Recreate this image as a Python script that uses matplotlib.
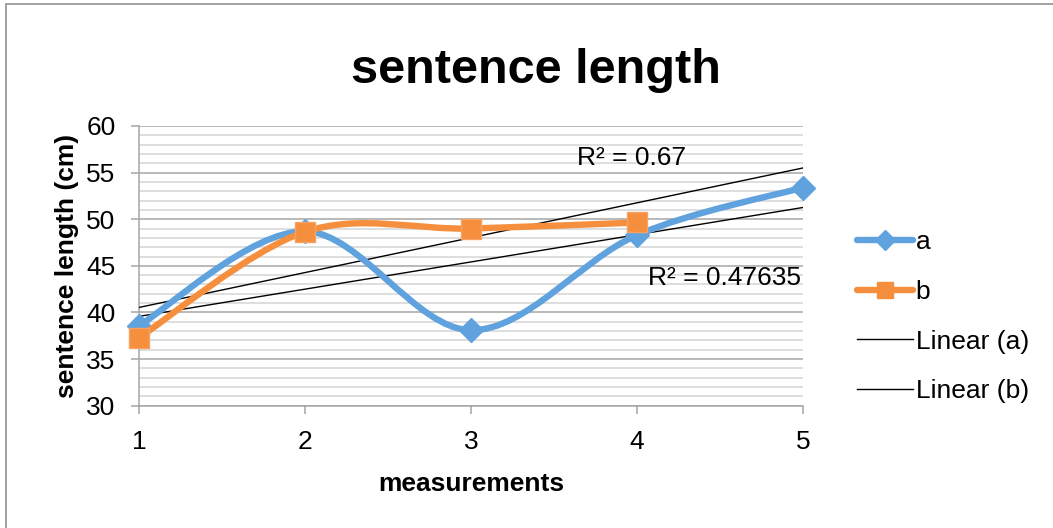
import matplotlib
matplotlib.use("Agg")
import matplotlib.pyplot as plt
import numpy as np
from matplotlib.path import Path
from matplotlib.patches import PathPatch, Rectangle
from matplotlib.lines import Line2D

plt.rcParams["font.family"] = ["Liberation Sans", "DejaVu Sans"]

# Dados.
x_a = [1, 2, 3, 4, 5]
a_vals = [38.6, 48.7, 38.1, 48.3, 53.4]
x_b = [1, 2, 3, 4]
b_vals = [37.3, 48.65, 49.0, 49.65]
r2_a = "R² = 0.47635"
r2_b = "R² = 0.67"

col_a = "#5fa2dd"
col_b = "#f58f3d"


def smooth_path(xs, ys):
    # Curva suavizada tipo Excel (Bezier com pontos de controle de Catmull-Rom).
    pts = np.column_stack([xs, ys]).astype(float)
    n = len(pts)
    verts = [pts[0]]
    codes = [Path.MOVETO]
    for i in range(n - 1):
        p0 = pts[max(i - 1, 0)]
        p1 = pts[i]
        p2 = pts[i + 1]
        p3 = pts[min(i + 2, n - 1)]
        c1 = p1 + (p2 - p0) / 6.0
        c2 = p2 - (p3 - p1) / 6.0
        verts += [c1, c2, p2]
        codes += [Path.CURVE4] * 3
    return Path(verts, codes)


fig = plt.figure(figsize=(10.53, 5.28), dpi=100)
ax = fig.add_axes([0.132, 0.2316, 0.6306, 0.5298])

# Linhas de grade e eixos.
ax.set_xlim(1, 5)
ax.set_ylim(30, 60)
ax.set_yticks(np.arange(30, 61, 5))
ax.set_yticks(np.arange(30, 61, 1), minor=True)
ax.set_xticks([1, 2, 3, 4, 5])
ax.grid(axis="y", which="major", color="#a6a6a6", lw=1.1, zorder=0)
ax.grid(axis="y", which="minor", color="#d4d4d4", lw=1.1, zorder=0)
ax.tick_params(axis="y", which="minor", length=0)
ax.tick_params(axis="both", which="major", length=5.8, width=1.1, color="#a6a6a6",
               labelsize=19)
ax.tick_params(axis="y", pad=11)
ax.tick_params(axis="x", pad=11.5)
for side in ["top", "right"]:
    ax.spines[side].set_visible(False)
for side in ["left", "bottom"]:
    ax.spines[side].set_color("#a6a6a6")
    ax.spines[side].set_linewidth(1.1)

# Linhas de tendência.
xt = np.array([1, 5])
pa = np.polyfit(x_a, a_vals, 1)
pb = np.polyfit(x_b, b_vals, 1)
ax.plot(xt, np.polyval(pa, xt), color="black", lw=1.0, zorder=3)
ax.plot(xt, np.polyval(pb, xt), color="black", lw=1.0, zorder=3)

# Séries suavizadas.
ax.add_patch(PathPatch(smooth_path(x_a, a_vals), fill=False, edgecolor=col_a,
                       lw=4.6, capstyle="round", zorder=4))
ax.plot(x_a, a_vals, ls="none", marker="D", ms=12, color=col_a, mec=col_a, zorder=5,
        clip_on=False)
ax.add_patch(PathPatch(smooth_path(x_b, b_vals), fill=False, edgecolor=col_b,
                       lw=4.6, capstyle="round", zorder=6))
ax.plot(x_b, b_vals, ls="none", marker="s", ms=14, color=col_b, mec="#f7a262",
        mew=1.0, zorder=7, clip_on=False)

# Rótulos de R².
ax.text(3.97, 56.6, r2_b, fontsize=19, ha="center", va="center", zorder=8)
ax.text(4.53, 43.7, r2_a, fontsize=19, ha="center", va="center", zorder=8)

ax.set_xlabel("measurements", fontsize=19, fontweight="bold", labelpad=13)
ax.set_ylabel("sentence length (cm)", fontsize=19, fontweight="bold", labelpad=5)
fig.text(0.509, 0.843, "sentence length", fontsize=35, fontweight="bold",
         ha="center", va="baseline")

# Legenda.
handles = [
    Line2D([], [], color=col_a, lw=4.6, marker="D", ms=10, solid_capstyle="round"),
    Line2D([], [], color=col_b, lw=4.6, marker="s", ms=11, solid_capstyle="round"),
    Line2D([], [], color="black", lw=1.0),
    Line2D([], [], color="black", lw=1.0),
]
labels = ["a", "b", "Linear (a)", "Linear (b)"]
fig.legend(handles, labels, loc="center left", bbox_to_anchor=(0.804, 0.4),
           frameon=False, fontsize=19, handlelength=2.12, handletextpad=0.1,
           labelspacing=0.97, borderaxespad=0)

# Moldura do gráfico.
fig.add_artist(Rectangle((6 / 1053, -0.1), 2.0, 1.0919, transform=fig.transFigure,
                         fill=False, edgecolor="#9a9a9a", lw=1.3))

fig.savefig("out.png", dpi=100)
